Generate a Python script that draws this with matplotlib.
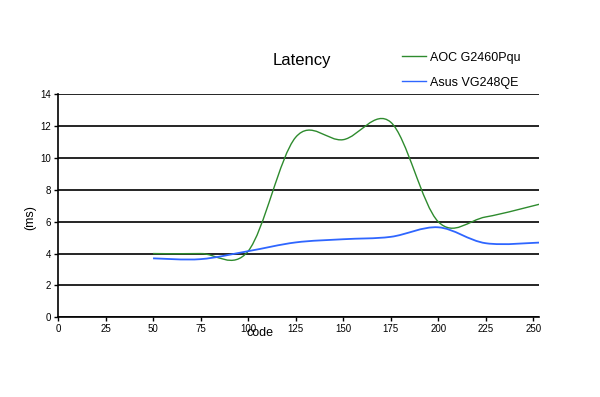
import matplotlib
matplotlib.use("Agg")
import matplotlib.pyplot as plt
from matplotlib.path import Path
from matplotlib.patches import PathPatch
import numpy as np

plt.rcParams['font.family'] = ['Liberation Sans', 'DejaVu Sans']

codes = [50, 75, 100, 125, 150, 175, 200, 225, 255]
aoc_ms = [4.0, 4.0, 4.15, 11.3, 11.15, 12.25, 6.0, 6.3, 7.15]
asus_ms = [3.7, 3.65, 4.15, 4.7, 4.9, 5.05, 5.65, 4.65, 4.7]

x_ticks = list(range(0, 251, 25))
y_ticks = list(range(0, 15, 2))


def smooth_path(xs, ys):
    # Excel-style smoothed line: Catmull-Rom segments as cubic Beziers
    xs = np.asarray(xs, float)
    ys = np.asarray(ys, float)
    n = len(xs)
    verts = [(xs[0], ys[0])]
    codes_ = [Path.MOVETO]
    for i in range(n - 1):
        i0 = max(i - 1, 0)
        i3 = min(i + 2, n - 1)
        c1 = (xs[i] + (xs[i + 1] - xs[i0]) / 6, ys[i] + (ys[i + 1] - ys[i0]) / 6)
        c2 = (xs[i + 1] - (xs[i3] - xs[i]) / 6, ys[i + 1] - (ys[i3] - ys[i]) / 6)
        verts += [c1, c2, (xs[i + 1], ys[i + 1])]
        codes_ += [Path.CURVE4] * 3
    return Path(verts, codes_)


fig = plt.figure(figsize=(6, 3.97), dpi=100)
ax = fig.add_axes([0.0967, 0.2008, 0.8016, 0.5617])

for vals, col, lw, lab in [(aoc_ms, '#2e8b2e', 1.0, 'AOC G2460Pqu'),
                           (asus_ms, '#2f66ff', 1.3, 'Asus VG248QE')]:
    ax.add_patch(PathPatch(smooth_path(codes, vals), facecolor='none',
                           edgecolor=col, lw=lw, zorder=3))
    ax.plot([], [], color=col, lw=1.0, label=lab)

ax.set_xlim(0, 253)
ax.set_ylim(0, 14)
ax.set_xticks(x_ticks)
ax.set_yticks(y_ticks)
ax.tick_params(labelsize=7, length=3, width=1, direction='out', pad=2)
ax.yaxis.grid(True, color='black', lw=1.2)
ax.set_axisbelow(True)
for s in ['top', 'right']:
    ax.spines[s].set_visible(False)
for s in ['left', 'bottom']:
    ax.spines[s].set_linewidth(1.2)

fig.text(0.503, 0.847, 'Latency', ha='center', va='center', fontsize=12)
fig.text(0.05, 0.453, '(ms)', rotation=90, ha='center', va='center', fontsize=9)
fig.text(0.433, 0.16, 'code', ha='center', va='center', fontsize=9)

fig.legend(loc='upper left', bbox_to_anchor=(0.652, 0.898), frameon=False,
           fontsize=9, handlelength=1.9, handletextpad=0.3, labelspacing=1.05)

fig.savefig('out.png', dpi=100)
